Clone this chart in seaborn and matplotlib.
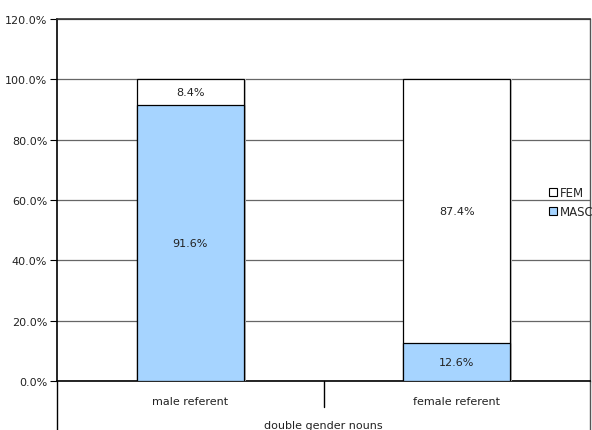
import matplotlib
matplotlib.use("Agg")
import matplotlib.pyplot as plt
import matplotlib.patheffects as pe
from matplotlib.patches import Patch
from matplotlib.lines import Line2D
import seaborn as sns
import pandas as pd

categories = ["male referent", "female referent"]
masc = [91.6, 12.6]
fem = [8.4, 87.4]
yticks = [0, 20, 40, 60, 80, 100, 120]
xlabel = "double gender nouns"

sns.set_theme(style="white")
plt.rcParams["font.family"] = ["DejaVu Sans"]

blue = "#A6D4FF"
fs = 8
txt = "#222222"

df = pd.DataFrame({"category": categories, "MASC": masc, "FEM": fem})
df["total"] = df["MASC"] + df["FEM"]

fig = plt.figure(figsize=(5.92, 4.31), dpi=100)
ax = fig.add_axes([57 / 592, 49 / 431, 533 / 592, 362 / 431])

shadow = [pe.SimplePatchShadow(offset=(1.6, 0), shadow_rgbFace="#c8c8c8", alpha=1.0), pe.Normal()]

# full stack (FEM on top) drawn first, MASC drawn over it from the baseline
sns.barplot(data=df, x="category", y="total", color="white", edgecolor="black",
            linewidth=0.9, width=0.4, saturation=1, ax=ax, zorder=3)
for p in ax.patches:
    p.set_path_effects(shadow)
sns.barplot(data=df, x="category", y="MASC", color=blue, edgecolor="black",
            linewidth=0.9, width=0.4, saturation=1, ax=ax, zorder=4)

# value labels centered in each segment
for i, (m, f) in enumerate(zip(df["MASC"], df["FEM"])):
    ax.text(i, m / 2, f"{m:.1f}%", ha="center", va="center", fontsize=fs, color=txt, zorder=6)
    ax.text(i, m + f / 2, f"{f:.1f}%", ha="center", va="center", fontsize=fs, color=txt, zorder=6)

ax.set_xlim(-0.5, 1.5)
ax.set_ylim(0, 120)
ax.set_yticks(yticks)
ax.set_yticklabels([f"{v:.1f}%" for v in yticks], fontsize=fs, color=txt)
ax.tick_params(axis="y", which="both", direction="out", length=5, width=0.8,
               color="black", left=True, pad=2)
ax.yaxis.grid(True, color="#666666", linewidth=0.9, zorder=0)
ax.set_axisbelow(True)

ax.set_xticks([0, 1])
ax.set_xticklabels(categories, fontsize=fs, color=txt)
ax.tick_params(axis="x", length=0, pad=10.5)
ax.set_xlabel(xlabel, fontsize=fs, color=txt, labelpad=10.5)
ax.set_ylabel("")

for side in ["left", "bottom"]:
    ax.spines[side].set_color("black")
    ax.spines[side].set_linewidth(1.2)
ax.spines["top"].set_color("#333333")
ax.spines["top"].set_linewidth(1.2)
ax.spines["right"].set_color("#555555")
ax.spines["right"].set_linewidth(1.0)
for s in ax.spines.values():
    s.set_visible(True)

# category axis box below the plot
for xv, y0, c in [(0, -49 / 362, "black"), (1, -49 / 362, "#555555"), (0.5, -26 / 362, "black")]:
    ax.add_line(Line2D([xv, xv], [0, y0], transform=ax.transAxes, color=c,
                       linewidth=1.0, clip_on=False))

handles = [Patch(facecolor="white", edgecolor="black", linewidth=0.8, label="FEM"),
           Patch(facecolor=blue, edgecolor="black", linewidth=0.8, label="MASC")]
fig.legend(handles=handles, loc="center left", bbox_to_anchor=(545 / 592, 1 - 203 / 431),
           frameon=False, fontsize=8.5, handlelength=0.7, handleheight=0.7,
           handletextpad=0.25, labelspacing=0.5, borderaxespad=0, borderpad=0.3)

fig.savefig("out.png", dpi=100)
